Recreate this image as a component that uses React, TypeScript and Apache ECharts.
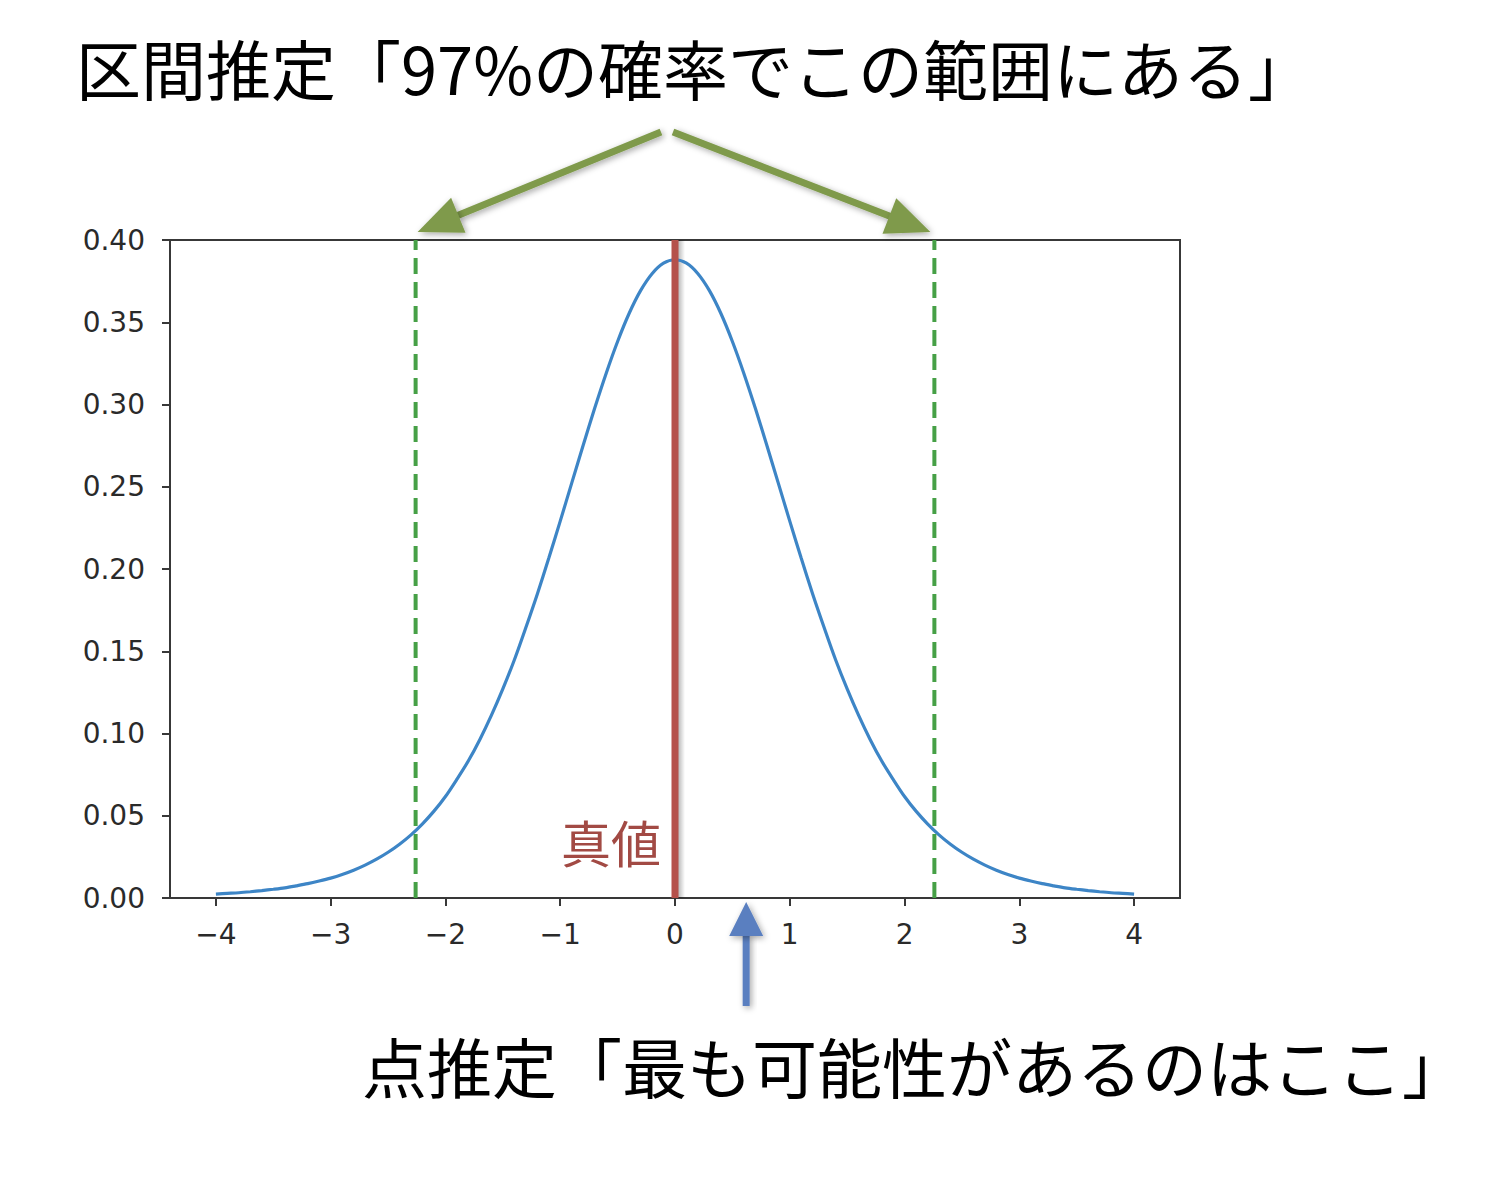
import { useEffect, useRef } from 'react';
import * as echarts from 'echarts';

// 曲線の値
const xValues = [
    -4, -3.9, -3.8, -3.7, -3.6, -3.5, -3.4, -3.3, -3.2, -3.1,
    -3, -2.9, -2.8, -2.7, -2.6, -2.5, -2.4, -2.3, -2.2, -2.1,
    -2, -1.9, -1.8, -1.7, -1.6, -1.5, -1.4, -1.3, -1.2, -1.1,
    -1, -0.9, -0.8, -0.7, -0.6, -0.5, -0.4, -0.3, -0.2, -0.1,
    0,
    0.1, 0.2, 0.3, 0.4, 0.5, 0.6, 0.7, 0.8, 0.9, 1,
    1.1, 1.2, 1.3, 1.4, 1.5, 1.6, 1.7, 1.8, 1.9, 2,
    2.1, 2.2, 2.3, 2.4, 2.5, 2.6, 2.7, 2.8, 2.9, 3,
    3.1, 3.2, 3.3, 3.4, 3.5, 3.6, 3.7, 3.8, 3.9, 4
];
const densityValues = [
    0.0024, 0.0028, 0.0032, 0.0038, 0.0045, 0.0053, 0.0062, 0.0074, 0.0087, 0.0103,
    0.0121, 0.0143, 0.0169, 0.0200, 0.0236, 0.0278, 0.0327, 0.0384, 0.0451, 0.0528,
    0.0617, 0.0722, 0.0834, 0.0964, 0.1110, 0.1271, 0.1447, 0.1643, 0.1847, 0.2065,
    0.2291, 0.2522, 0.2752, 0.2977, 0.3189, 0.3383, 0.3553, 0.3692, 0.3795, 0.3859,
    0.3880,
    0.3859, 0.3795, 0.3692, 0.3553, 0.3383, 0.3189, 0.2977, 0.2752, 0.2522, 0.2291,
    0.2065, 0.1847, 0.1643, 0.1447, 0.1271, 0.1110, 0.0964, 0.0834, 0.0722, 0.0617,
    0.0528, 0.0451, 0.0384, 0.0327, 0.0278, 0.0236, 0.0200, 0.0169, 0.0143, 0.0121,
    0.0103, 0.0087, 0.0074, 0.0062, 0.0053, 0.0045, 0.0038, 0.0032, 0.0028, 0.0024
];
const xTicks = [-4, -3, -2, -1, 0, 1, 2, 3, 4];
const intervalBounds = [-2.26, 2.26];
const trueValue = 0;
const pointEstimate = 0.62;

const titleText = '区間推定「97%の確率でこの範囲にある」';
const pointText = '点推定「最も可能性があるのはここ」';
const trueText = '真値';

const JP_FONT = '"Noto Sans CJK JP", "Noto Sans", sans-serif';
const AXIS_FONT = '"DejaVu Sans", sans-serif';
const AXIS_COLOR = '#383838';

const shadow = {
    shadowBlur: 6,
    shadowColor: 'rgba(0,0,0,0.35)',
    shadowOffsetX: 2,
    shadowOffsetY: 2
};

// 矢印（軸部分も多角形にして影が消えないようにする）
const arrow = (x1: number, y1: number, x2: number, y2: number, color: string,
               width: number, headLen: number, headHalf: number) => {
    const dx = x2 - x1;
    const dy = y2 - y1;
    const len = Math.hypot(dx, dy);
    const ux = dx / len;
    const uy = dy / len;
    const bx = x2 - ux * headLen;
    const by = y2 - uy * headLen;
    const nx = -uy;
    const ny = ux;
    const hw = width / 2;
    const ex = bx + ux * 2;
    const ey = by + uy * 2;
    return [
        {
            type: 'polygon',
            shape: {
                points: [
                    [x1 + nx * hw, y1 + ny * hw],
                    [ex + nx * hw, ey + ny * hw],
                    [ex - nx * hw, ey - ny * hw],
                    [x1 - nx * hw, y1 - ny * hw]
                ]
            },
            style: { fill: color, ...shadow }
        },
        {
            type: 'polygon',
            shape: {
                points: [
                    [x2, y2],
                    [bx + nx * headHalf, by + ny * headHalf],
                    [bx - nx * headHalf, by - ny * headHalf]
                ]
            },
            style: { fill: color, ...shadow }
        }
    ];
};

const App = () => {
    const chartRef = useRef<HTMLDivElement>(null);

    useEffect(() => {
        document.body.style.margin = '0';
        if (!chartRef.current) return;
        const chart = echarts.init(chartRef.current, undefined, { renderer: 'svg' });

        const curve = xValues.map((x, i) => [x, densityValues[i]]);

        chart.setOption({
            animation: false,
            backgroundColor: '#ffffff',
            grid: {
                left: 170,
                right: 312,
                top: 240,
                bottom: 280,
                show: true,
                borderColor: AXIS_COLOR,
                borderWidth: 2,
                backgroundColor: 'transparent'
            },
            xAxis: {
                type: 'value',
                min: -4.4,
                max: 4.4,
                splitLine: { show: false },
                axisLine: { onZero: false, lineStyle: { color: AXIS_COLOR, width: 2 } },
                axisTick: {
                    customValues: xTicks,
                    length: 8,
                    lineStyle: { color: AXIS_COLOR, width: 2 }
                },
                axisLabel: {
                    customValues: xTicks,
                    margin: 22,
                    fontSize: 28,
                    fontFamily: AXIS_FONT,
                    color: '#2a2a2a',
                    formatter: (v: number) => (v < 0 ? '\u2212' + Math.abs(v) : String(v))
                }
            },
            yAxis: {
                type: 'value',
                min: 0,
                max: 0.4,
                interval: 0.05,
                splitLine: { show: false },
                axisLine: { show: true, onZero: false, lineStyle: { color: AXIS_COLOR, width: 2 } },
                axisTick: { show: true, length: 8, lineStyle: { color: AXIS_COLOR, width: 2 } },
                axisLabel: {
                    margin: 25,
                    fontSize: 28,
                    fontFamily: AXIS_FONT,
                    color: '#2a2a2a',
                    formatter: (v: number) => v.toFixed(2)
                }
            },
            series: [
                {
                    type: 'line',
                    data: curve,
                    smooth: 0.3,
                    showSymbol: false,
                    lineStyle: { color: '#3d85c6', width: 3.2 },
                    z: 2
                },
                ...intervalBounds.map(b => ({
                    type: 'line',
                    data: [[b, 0], [b, 0.4]],
                    showSymbol: false,
                    lineStyle: { color: '#46a046', width: 4, type: [16, 8] },
                    z: 3
                })),
                {
                    type: 'line',
                    data: [[trueValue, 0], [trueValue, 0.4]],
                    showSymbol: false,
                    lineStyle: { color: '#b5514b', width: 7 },
                    z: 5
                }
            ]
        });

        const px = (x: number, y: number) =>
            chart.convertToPixel({ gridIndex: 0 }, [x, y]) as number[];

        const top = px(trueValue, 0.4);
        const bottom = px(trueValue, 0);
        const leftTip = px(intervalBounds[0], 0.4);
        const rightTip = px(intervalBounds[1], 0.4);
        const estBase = px(pointEstimate, 0);
        const green = '#7f9a4c';

        chart.setOption({
            graphic: [
                // 真値の線の影
                {
                    type: 'rect',
                    shape: { x: top[0] + 3, y: top[1], width: 7, height: bottom[1] - top[1] },
                    style: {
                        fill: new echarts.graphic.LinearGradient(0, 0, 1, 0, [
                            { offset: 0, color: 'rgba(0,0,0,0.28)' },
                            { offset: 1, color: 'rgba(0,0,0,0)' }
                        ])
                    },
                    z: 1
                },
                ...arrow(top[0] - 14, 132, leftTip[0] + 2, leftTip[1] - 8, green, 7, 44, 19),
                ...arrow(top[0] - 2, 132, rightTip[0] - 4, rightTip[1] - 8, green, 7, 44, 19),
                ...arrow(estBase[0], 1006, estBase[0], estBase[1] + 4, '#5a7fc0', 7, 34, 17),
                {
                    type: 'text',
                    x: bottom[0] - 14,
                    y: 841,
                    style: {
                        text: trueText,
                        fontSize: 50,
                        fontFamily: JP_FONT,
                        fill: '#a24a44',
                        align: 'right',
                        verticalAlign: 'middle'
                    }
                },
                {
                    type: 'text',
                    x: 76,
                    y: 67,
                    style: {
                        text: titleText,
                        fontSize: 65,
                        fontFamily: JP_FONT,
                        fill: '#000000',
                        align: 'left',
                        verticalAlign: 'middle'
                    }
                },
                {
                    type: 'text',
                    x: 362,
                    y: 1065,
                    style: {
                        text: pointText,
                        fontSize: 65,
                        fontFamily: JP_FONT,
                        fill: '#000000',
                        align: 'left',
                        verticalAlign: 'middle'
                    }
                }
            ]
        });

        return () => {
            chart.dispose();
        };
    }, []);

    return <div ref={chartRef} style={{ width: '1492px', height: '1178px' }} />;
};

export default App;
